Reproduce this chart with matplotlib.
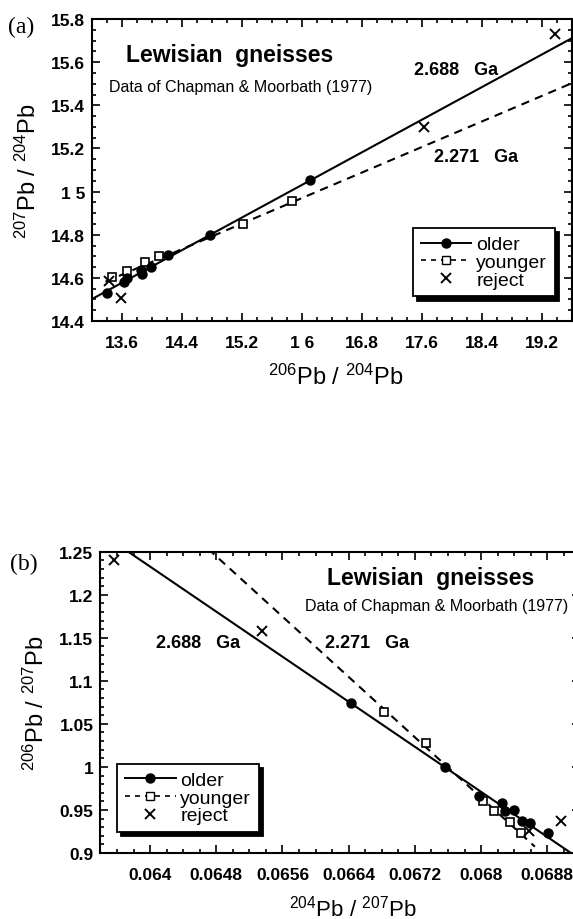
import matplotlib
matplotlib.use("Agg")
import matplotlib.pyplot as plt
from matplotlib.ticker import FixedLocator, FixedFormatter, MultipleLocator
from matplotlib.lines import Line2D

plt.rcParams['font.family'] = ['Liberation Sans', 'DejaVu Sans']
plt.rcParams['mathtext.fontset'] = 'custom'
plt.rcParams['mathtext.rm'] = 'Liberation Sans'
plt.rcParams['mathtext.it'] = 'Liberation Sans:italic'
plt.rcParams['mathtext.bf'] = 'Liberation Sans:bold'

# ---------------- Panel (a): 207Pb/204Pb vs 206Pb/204Pb ----------------
a_older_x = [13.40, 13.62, 13.66, 13.85, 13.86, 13.98, 14.21, 14.77, 16.10]
a_older_y = [14.528, 14.579, 14.600, 14.636, 14.616, 14.651, 14.708, 14.800, 15.052]
a_younger_x = [13.46, 13.66, 13.90, 14.09, 15.21, 15.86]
a_younger_y = [14.604, 14.630, 14.672, 14.703, 14.849, 14.958]
a_reject_x = [13.43, 13.59, 17.62, 19.37]
a_reject_y = [14.585, 14.505, 15.30, 15.73]

# isochrons: slope, intercept, x-extent
a_iso_older = (0.189, 12.007, 13.2, 19.6)
a_iso_younger = (0.148, 12.602, 13.38, 19.6)

a_xticks = [13.6, 14.4, 15.2, 16.0, 16.8, 17.6, 18.4, 19.2]
a_xticklabels = ['13.6', '14.4', '15.2', '1 6', '16.8', '17.6', '18.4', '19.2']
a_yticks = [14.4, 14.6, 14.8, 15.0, 15.2, 15.4, 15.6, 15.8]
a_yticklabels = ['14.4', '14.6', '14.8', '1 5', '15.2', '15.4', '15.6', '15.8']

# ---------------- Panel (b): 206Pb/207Pb vs 204Pb/207Pb ----------------
b_older_x = [0.06643, 0.06756, 0.06797, 0.06825, 0.06829, 0.06840, 0.06849, 0.06859, 0.06881]
b_older_y = [1.0738, 1.0003, 0.9666, 0.9581, 0.9492, 0.9503, 0.9368, 0.9348, 0.9232]
b_younger_x = [0.06683, 0.06733, 0.06802, 0.06816, 0.06835, 0.06848]
b_younger_y = [1.0634, 1.0278, 0.9609, 0.9485, 0.9358, 0.9230]
b_reject_x = [0.06357, 0.06535, 0.06858, 0.06896]
b_reject_y = [1.2407, 1.1583, 0.9260, 0.9376]

b_iso_older = (-65.42, 5.4196, 0.0634, 0.0692)
b_iso_younger = (-87.62, 6.9225, 0.0634, 0.06865)

b_xticks = [0.0640, 0.0648, 0.0656, 0.0664, 0.0672, 0.0680, 0.0688]
b_xticklabels = ['0.064', '0.0648', '0.0656', '0.0664', '0.0672', '0.068', '0.0688']
b_yticks = [0.90, 0.95, 1.00, 1.05, 1.10, 1.15, 1.20, 1.25]
b_yticklabels = ['0.9', '0.95', '1', '1.05', '1.1', '1.15', '1.2', '1.25']

W, H = 573, 920
fig = plt.figure(figsize=(W / 100, H / 100), dpi=100)


def px_axes(left, top, width, height):
    return fig.add_axes([left / W, 1 - (top + height) / H, width / W, height / H])


def style_axes(ax, xt, xtl, yt, ytl, xminor, yminor, xlim, ylim):
    ax.set_xlim(*xlim)
    ax.set_ylim(*ylim)
    ax.xaxis.set_major_locator(FixedLocator(xt))
    ax.xaxis.set_major_formatter(FixedFormatter(xtl))
    ax.yaxis.set_major_locator(FixedLocator(yt))
    ax.yaxis.set_major_formatter(FixedFormatter(ytl))
    ax.xaxis.set_minor_locator(MultipleLocator(xminor))
    ax.yaxis.set_minor_locator(MultipleLocator(yminor))
    ax.tick_params(which='both', direction='in', top=True, right=True, width=1.2)
    ax.tick_params(which='major', length=5.5)
    ax.tick_params(which='minor', length=3)
    ax.tick_params(axis='x', which='major', pad=10)
    ax.tick_params(axis='y', which='major', pad=5)
    for lab in ax.get_xticklabels() + ax.get_yticklabels():
        lab.set_fontsize(12.5)
        lab.set_fontweight('bold')
    for s in ax.spines.values():
        s.set_linewidth(1.5)


def draw_iso(ax, iso, ls):
    m, c, x0, x1 = iso
    ax.plot([x0, x1], [m * x0 + c, m * x1 + c], color='black', lw=1.5, ls=ls,
            dashes=(4, 3) if ls == '--' else (None, None), zorder=2)


def draw_points(ax, ox, oy, yx, yy, rx, ry):
    ax.plot(ox, oy, 'o', ms=6.5, mfc='black', mec='black', ls='none', zorder=4)
    ax.plot(yx, yy, 's', ms=6, mfc='white', mec='black', mew=1.2, ls='none', zorder=3)
    ax.plot(rx, ry, 'x', ms=6.5, mec='black', mew=1.4, ls='none', zorder=4)


def add_legend(ax, anchor):
    handles = [
        Line2D([], [], color='black', lw=1.4, marker='o', ms=6.5, mfc='black'),
        Line2D([], [], color='black', lw=1.2, ls='--', dashes=(3, 3), marker='s', ms=5.5,
               mfc='white', mew=1.0),
        Line2D([], [], color='black', ls='none', marker='x', ms=6.5, mew=1.4),
    ]
    leg = ax.legend(handles, ['older', 'younger', 'reject'], loc='upper left',
                    bbox_to_anchor=anchor, frameon=True, fancybox=False,
                    fontsize=14, handlelength=2.6, handletextpad=0.25,
                    labelspacing=0.0, borderpad=0.4, borderaxespad=0,
                    numpoints=1,
                    shadow={'ox': 3, 'oy': -3, 'facecolor': 'black',
                            'edgecolor': 'black', 'alpha': 1})
    fr = leg.get_frame()
    fr.set_edgecolor('black')
    fr.set_linewidth(1.3)
    fr.set_alpha(1)
    leg.set_zorder(10)


# ---- panel (a) ----
ax1 = px_axes(92, 20, 480, 302)
style_axes(ax1, a_xticks, a_xticklabels, a_yticks, a_yticklabels, 0.2, 0.05,
           (13.2, 19.6), (14.4, 15.8))
draw_iso(ax1, a_iso_older, '-')
draw_iso(ax1, a_iso_younger, '--')
draw_points(ax1, a_older_x, a_older_y, a_younger_x, a_younger_y, a_reject_x, a_reject_y)
add_legend(ax1, (0.669, 0.308))

ax1.text(0.071, 0.884, 'Lewisian  gneisses', transform=ax1.transAxes, fontsize=16.5,
         fontweight='bold', va='center', ha='left')
ax1.text(0.036, 0.778, 'Data of Chapman & Moorbath (1977)', transform=ax1.transAxes,
         fontsize=11.5, va='center', ha='left')
ax1.text(0.671, 0.834, '2.688   Ga', transform=ax1.transAxes, fontsize=13,
         fontweight='bold', va='center', ha='left')
ax1.text(0.7125, 0.546, '2.271   Ga', transform=ax1.transAxes, fontsize=13,
         fontweight='bold', va='center', ha='left')

ax1.set_xlabel(r'$^{206}$Pb / $^{204}$Pb', fontsize=17)
ax1.xaxis.set_label_coords(0.508, -0.142)
ax1.set_ylabel(r'$^{207}$Pb / $^{204}$Pb', fontsize=17)
ax1.yaxis.set_label_coords(-0.106, 0.5)

# ---- panel (b) ----
ax2 = px_axes(100.4, 552.7, 480, 301.3)
style_axes(ax2, b_xticks, b_xticklabels, b_yticks, b_yticklabels, 0.0002, 0.01,
           (0.0634, 0.0692), (0.9, 1.25))
draw_iso(ax2, b_iso_older, '-')
draw_iso(ax2, b_iso_younger, '--')
draw_points(ax2, b_older_x, b_older_y, b_younger_x, b_younger_y, b_reject_x, b_reject_y)
add_legend(ax2, (0.035, 0.296))

ax2.text(0.472, 0.916, 'Lewisian  gneisses', transform=ax2.transAxes, fontsize=16.5,
         fontweight='bold', va='center', ha='left')
ax2.text(0.426, 0.820, 'Data of Chapman & Moorbath (1977)', transform=ax2.transAxes,
         fontsize=11.5, va='center', ha='left')
ax2.text(0.116, 0.697, '2.688   Ga', transform=ax2.transAxes, fontsize=13,
         fontweight='bold', va='center', ha='left')
ax2.text(0.468, 0.700, '2.271   Ga', transform=ax2.transAxes, fontsize=13,
         fontweight='bold', va='center', ha='left')

ax2.set_xlabel(r'$^{204}$Pb / $^{207}$Pb', fontsize=16)
ax2.xaxis.set_label_coords(0.526, -0.138)
ax2.set_ylabel(r'$^{206}$Pb / $^{207}$Pb', fontsize=17)
ax2.yaxis.set_label_coords(-0.107, 0.5)

# panel letters
fig.text(8 / W, 1 - 27 / H, '(a)', family='Liberation Serif', fontsize=17,
         va='center', ha='left')
fig.text(10 / W, 1 - 564 / H, '(b)', family='Liberation Serif', fontsize=17,
         va='center', ha='left')

fig.savefig('out.png', dpi=100)
